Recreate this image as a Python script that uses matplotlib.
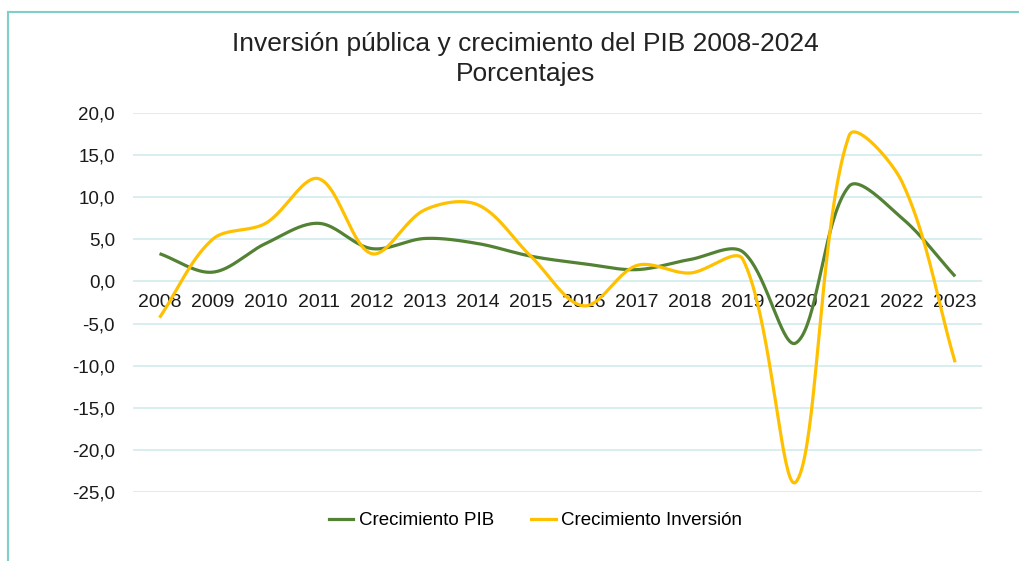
import numpy as np
import matplotlib.pyplot as plt
import matplotlib
from matplotlib.lines import Line2D

matplotlib.rcParams["font.family"] = ["Liberation Sans", "DejaVu Sans"]

years = ["2008", "2009", "2010", "2011", "2012", "2013", "2014", "2015",
         "2016", "2017", "2018", "2019", "2020", "2021", "2022", "2023"]
pib = [3.3, 1.1, 4.5, 6.9, 3.9, 5.1, 4.5, 3.0,
       2.1, 1.4, 2.6, 3.5, -7.3, 11.3, 7.5, 0.6]
inversion = [-4.3, 5.0, 6.9, 12.2, 3.3, 8.5, 9.1, 3.0,
             -2.9, 1.9, 1.0, 2.6, -23.8, 17.3, 11.8, -9.6]
yticks = [-25, -20, -15, -10, -5, 0, 5, 10, 15, 20]

COLORS = {"pib": "#548235", "inv": "#FFC000", "grid": "#d5eeee", "frame": "#7fcfc9"}

# escala aprox. en pixeles (para suavizar como Excel)
PX_X, PX_Y = 53.0, 8.42


def smooth(y, n=40):
    # bezier con tangentes proporcionales a la cuerda (estilo linea suavizada Excel)
    x = np.arange(len(y), dtype=float) * PX_X
    yy = np.asarray(y, dtype=float) * PX_Y
    P = np.column_stack([x, yy])
    P = np.vstack([2 * P[0] - P[1], P, 2 * P[-1] - P[-2]])
    out = []
    t = np.linspace(0, 1, n, endpoint=False)[:, None]
    for i in range(1, len(P) - 2):
        p0, p1, p2, p3 = P[i - 1], P[i], P[i + 1], P[i + 2]
        d01 = np.linalg.norm(p1 - p0)
        d12 = np.linalg.norm(p2 - p1)
        d23 = np.linalg.norm(p3 - p2)
        c1 = p1 + (p2 - p0) * d12 / (d01 + d12) / 3
        c2 = p2 - (p3 - p1) * d12 / (d12 + d23) / 3
        seg = ((1 - t) ** 3 * p1 + 3 * (1 - t) ** 2 * t * c1
               + 3 * (1 - t) * t ** 2 * c2 + t ** 3 * p2)
        out.append(seg)
    out.append(P[-2][None, :])
    out = np.vstack(out)
    return out[:, 0] / PX_X, out[:, 1] / PX_Y


fig = plt.figure(figsize=(10.2, 5.61), dpi=100)
ax = fig.add_axes([0.1304, 0.123, 0.832, 0.6756])

for v in yticks:
    ax.axhline(v, color=COLORS["grid"], linewidth=1.3, zorder=0)

xs, ys = smooth(pib)
ax.plot(xs, ys, color=COLORS["pib"], linewidth=2.3, solid_capstyle="butt", zorder=3)
xs, ys = smooth(inversion)
ax.plot(xs, ys, color=COLORS["inv"], linewidth=2.3, solid_capstyle="butt", zorder=4)

ax.set_xlim(-0.5, len(years) - 0.5)
ax.set_ylim(-25, 20)
ax.set_xticks(range(len(years)))
ax.set_xticklabels(years)
ax.set_yticks(yticks)
ax.set_yticklabels([f"{v:.1f}".replace(".", ",") for v in yticks])
ax.spines["bottom"].set_position(("data", 0))
for s in ax.spines.values():
    s.set_visible(False)
ax.tick_params(axis="x", length=0, pad=9, labelsize=14, labelcolor="#1a1a1a")
ax.tick_params(axis="y", length=0, pad=13, labelsize=13.5, labelcolor="#1a1a1a")

fig.text(0.515, 0.922, "Inversión pública y crecimiento del PIB 2008-2024",
         ha="center", va="center", fontsize=19, color="#222222")
fig.text(0.515, 0.868, "Porcentajes", ha="center", va="center",
         fontsize=19, color="#222222")

handles = [Line2D([], [], color=COLORS["pib"], linewidth=2.3),
           Line2D([], [], color=COLORS["inv"], linewidth=2.3)]
fig.legend(handles, ["Crecimiento PIB", "Crecimiento Inversión"],
           loc="center", bbox_to_anchor=(0.525, 0.072), ncol=2, frameon=False,
           fontsize=13.5, handlelength=1.3, handletextpad=0.3, columnspacing=2.0)

# marco del grafico
fig.add_artist(Line2D([8 / 1020, 1], [1 - 12 / 561, 1 - 12 / 561],
                      color=COLORS["frame"], linewidth=1.5, transform=fig.transFigure))
fig.add_artist(Line2D([8 / 1020, 8 / 1020], [0, 1 - 12 / 561],
                      color=COLORS["frame"], linewidth=1.5, transform=fig.transFigure))

plt.savefig("out.png", dpi=100)
plt.close()
